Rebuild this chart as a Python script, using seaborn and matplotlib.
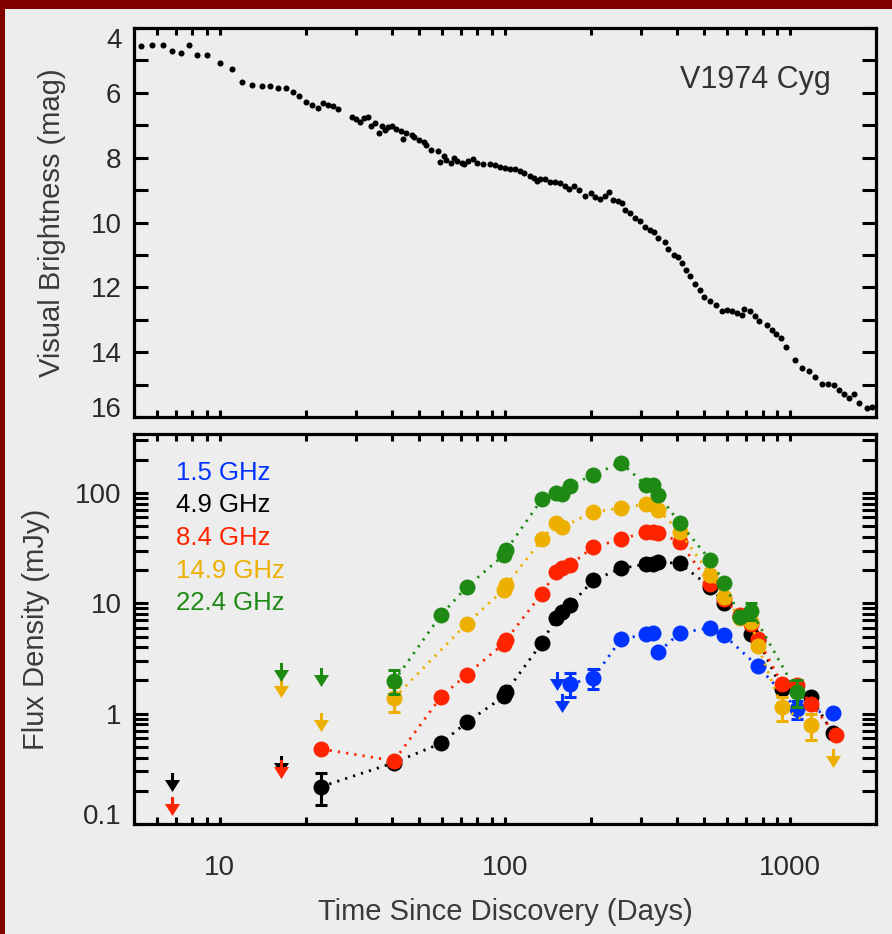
import numpy as np
import matplotlib
matplotlib.use("Agg")
import matplotlib.pyplot as plt
import seaborn as sns
from matplotlib.path import Path
from matplotlib.patches import Rectangle
from matplotlib.ticker import MultipleLocator, LogLocator, FuncFormatter, NullFormatter

# optical light curve (days since discovery, visual mag)
days_vis = [5.3, 5.8, 6.3, 6.8, 7.3, 7.8, 8.3, 9.0, 10.0, 11.0, 12.0, 13.0, 14.0, 15.0,
            16.0, 17.0, 18.0, 19.0, 20.0, 21.0, 22.0, 23.0, 24.0, 25.0,
            26, 29, 30, 31, 32, 33, 34, 35, 36, 37, 38, 39, 40, 41.5, 43, 44, 45, 47, 48, 50,
            52, 53, 55, 58, 59, 61, 62, 64.5, 66, 68, 70.5, 72, 74, 77, 80, 84, 88.5, 92, 96, 100,
            104, 108, 113, 117, 122, 126, 129, 133, 138, 144, 150, 156, 162, 167,
            174, 182, 191, 200, 207, 215, 224, 232, 239, 248, 257, 264, 275, 286, 298, 310,
            321, 333, 343, 364, 374, 390, 405, 417, 432, 446, 464, 481, 499, 524,
            550, 576, 600, 624, 650, 677, 690, 720, 754, 780,
            828, 863, 893, 927, 968, 1035, 1099, 1159, 1224, 1291, 1352, 1419, 1486, 1546,
            1610, 1677, 1742, 1858, 1935]
mag_vis = [4.54, 4.51, 4.51, 4.72, 4.78, 4.53, 4.82, 4.84, 5.08, 5.26, 5.67, 5.77, 5.79, 5.79,
           5.84, 5.85, 5.96, 6.10, 6.27, 6.37, 6.48, 6.30, 6.36, 6.41,
           6.50, 6.74, 6.80, 6.90, 6.78, 6.76, 7.01, 6.92, 7.25, 7.01, 7.15, 7.05, 7.01, 7.13, 7.19, 7.42, 7.25, 7.29, 7.35, 7.44,
           7.52, 7.62, 7.77, 7.80, 8.14, 7.95, 8.06, 8.16, 8.00, 8.11, 8.16, 8.21, 8.11, 8.03, 8.16, 8.21, 8.20, 8.24, 8.28, 8.31,
           8.34, 8.36, 8.40, 8.47, 8.55, 8.62, 8.73, 8.65, 8.67, 8.76, 8.76, 8.77, 8.86, 8.96,
           8.86, 9.00, 9.17, 9.08, 9.21, 9.27, 9.19, 9.07, 9.31, 9.34, 9.41, 9.60, 9.72, 9.86, 9.96, 10.13,
           10.24, 10.30, 10.48, 10.61, 10.83, 10.99, 11.06, 11.24, 11.45, 11.64, 11.91, 12.09, 12.29, 12.43,
           12.53, 12.74, 12.69, 12.74, 12.79, 12.84, 12.66, 12.74, 12.89, 13.05,
           13.15, 13.30, 13.43, 13.56, 13.84, 14.23, 14.48, 14.59, 14.76, 14.97, 14.97, 15.00, 15.18, 15.28,
           15.41, 15.29, 15.57, 15.72, 15.69]

# radio detections (days, mJy)
days_15 = [169, 204, 255, 311, 331, 345, 409, 524, 587, 771, 1056, 1412]
flux_15 = [1.86, 2.11, 4.71, 5.23, 5.37, 3.61, 5.37, 6.01, 5.12, 2.68, 1.10, 1.01]
days_49 = [22.7, 40.8, 59.5, 73.4, 99, 101, 134.5, 151, 158.5, 169, 204, 255, 311, 331, 345, 409,
           524, 587, 666, 730, 771, 935, 1182, 1412]
flux_49 = [0.218, 0.359, 0.537, 0.834, 1.43, 1.585, 4.36, 7.41, 8.34, 9.59, 16.2, 20.7, 22.6, 22.6,
           23.7, 23.0, 14.1, 10.06, 7.46, 5.23, 4.61, 1.68, 1.41, 0.662]
days_84 = [22.7, 40.8, 59.5, 73.4, 99, 101, 134.5, 151, 158.5, 169, 204, 255, 311, 331, 345, 409,
           524, 587, 666, 730, 771, 935, 1056, 1182, 1450]
flux_84 = [0.478, 0.374, 1.41, 2.26, 4.31, 4.68, 12.2, 19.3, 21.1, 22.2, 32.5, 37.9, 44.5, 44.5,
           43.6, 36.1, 14.9, 11.0, 7.78, 6.44, 4.78, 1.86, 1.83, 1.21, 0.644]
days_149 = [40.8, 73.4, 99, 101, 134.5, 151, 158.5, 204, 255, 311, 331, 345, 409, 524, 587, 666,
            730, 771, 935, 1182]
flux_149 = [1.38, 6.54, 13.3, 14.6, 37.9, 53.7, 48.7, 67.6, 72.6, 79.4, 79.4, 70.0, 44.5, 18.2,
            11.4, 7.41, 6.76, 4.06, 1.14, 0.794]
days_224 = [40.8, 59.5, 73.4, 99, 101, 134.5, 151, 158.5, 169, 204, 255, 311, 331, 345, 409, 524,
            587, 666, 730, 1056]
flux_224 = [1.97, 7.78, 14.1, 27.3, 30.3, 87.7, 100.6, 97.9, 115.8, 146.6, 188.5, 118.2, 118.2,
            95.9, 53.7, 24.6, 15.3, 7.51, 8.51, 1.56]

# points with error bars (days, value, low, high)
err_15 = ([169, 204, 1056], [1.86, 2.11, 1.10], [1.41, 1.68, 0.895], [2.34, 2.55, 1.31])
err_49 = ([22.7], [0.218], [0.149], [0.292])
err_84 = ([], [], [], [])
err_149 = ([40.8, 935, 1182], [1.38, 1.14, 0.794], [1.04, 0.864, 0.576], [1.73, 1.41, 0.994])
err_224 = ([40.8, 730, 1056], [1.97, 8.51, 1.56], [1.51, 7.01, 1.14], [2.46, 10.06, 2.0])

# upper limits (days, mJy)
ul_days_15, ul_flux_15 = [152, 159], [1.96, 1.25]
ul_days_49, ul_flux_49 = [6.8, 16.4], [0.241, 0.344]
ul_days_84, ul_flux_84 = [6.8, 16.4], [0.146, 0.313]
ul_days_149, ul_flux_149 = [16.4, 22.7, 1412], [1.69, 0.84, 0.394]
ul_days_224, ul_flux_224 = [16.4, 22.7], [2.36, 2.17]

band_labels = ["1.5 GHz", "4.9 GHz", "8.4 GHz", "14.9 GHz", "22.4 GHz"]
band_colors = ["#0033ff", "#000000", "#ff2400", "#edb000", "#1e8a14"]

bg = "#ededed"
sns.set_theme(style="white")
plt.rcParams["font.family"] = ["Liberation Sans", "DejaVu Sans"]

fig = plt.figure(figsize=(8.92, 9.34), dpi=100, facecolor=bg)
ax1 = fig.add_axes([0.1502, 0.5535, 0.832, 0.4165])
ax2 = fig.add_axes([0.1502, 0.1178, 0.832, 0.4172])


def style_axes(ax):
    ax.set_facecolor(bg)
    for sp in ax.spines.values():
        sp.set_visible(True)
        sp.set_linewidth(2.3)
        sp.set_color("black")
    ax.tick_params(axis="both", which="both", direction="in", top=True, bottom=True,
                   left=True, right=True, width=2.2, color="black",
                   labelcolor="#2a2a2a", labelsize=20)
    ax.tick_params(axis="x", which="both", length=5, pad=22)
    ax.tick_params(axis="y", which="both", length=10, pad=9)
    ax.set_xscale("log")
    ax.set_xlim(5, 2000)
    ax.xaxis.set_major_locator(LogLocator(base=10, numticks=10))
    ax.xaxis.set_minor_locator(LogLocator(base=10, subs=np.arange(2, 10), numticks=20))
    ax.xaxis.set_major_formatter(FuncFormatter(lambda v, p: f"{v:g}"))
    ax.xaxis.set_minor_formatter(NullFormatter())
    ax.grid(False)


def shift_end_labels(ax, lo, hi):
    # y labels sit a little low; the end labels are pulled inside the frame
    for tick, loc in zip(ax.yaxis.get_major_ticks(), ax.yaxis.get_majorticklocs()):
        if np.isclose(loc, lo):
            tick.label1.set_va("baseline")
        elif np.isclose(loc, hi):
            tick.label1.set_va("top")
        else:
            tick.label1.set_va("center_baseline")


# top panel: visual light curve
style_axes(ax1)
sns.scatterplot(x=days_vis, y=mag_vis, ax=ax1, color="black", s=19, linewidth=0)
ax1.set_ylim(16, 4)
ax1.yaxis.set_major_locator(MultipleLocator(2))
ax1.yaxis.set_minor_locator(MultipleLocator(1))
ax1.tick_params(axis="x", labelbottom=False)
ax1.set_ylabel("Visual Brightness (mag)", fontsize=21, color="#3a3a3a")
ax1.yaxis.set_label_coords(-0.0916, 0.5)
ax1.text(0.736, 0.8465, "V1974 Cyg", fontsize=22, color="#333333",
         transform=ax1.transAxes, va="baseline", ha="left")

# bottom panel: radio light curves
style_axes(ax2)
ax2.set_yscale("log")
ax2.set_ylim(0.1, 340)
ax2.yaxis.set_major_locator(LogLocator(base=10, numticks=10))
ax2.yaxis.set_minor_locator(LogLocator(base=10, subs=np.arange(2, 10), numticks=20))
ax2.yaxis.set_major_formatter(FuncFormatter(lambda v, p: f"{v:g}"))
ax2.yaxis.set_minor_formatter(NullFormatter())

# downward arrow marker for upper limits
arrow = Path([(-0.16, 1), (0.16, 1), (0.16, 0.26), (0.79, 0.26), (0, -1),
              (-0.79, 0.26), (-0.16, 0.26), (-0.16, 1)],
             [Path.MOVETO] + [Path.LINETO] * 6 + [Path.CLOSEPOLY])

det_days = [days_15, days_49, days_84, days_149, days_224]
det_flux = [flux_15, flux_49, flux_84, flux_149, flux_224]
errs = [err_15, err_49, err_84, err_149, err_224]
ul_days = [ul_days_15, ul_days_49, ul_days_84, ul_days_149, ul_days_224]
ul_flux = [ul_flux_15, ul_flux_49, ul_flux_84, ul_flux_149, ul_flux_224]

for i, c in enumerate(band_colors):
    z = 3 + i
    sns.lineplot(x=det_days[i], y=det_flux[i], ax=ax2, color=c, linestyle=(0, (0.8, 2.2)),
                 linewidth=2.0, marker="o", markersize=11.5, markeredgewidth=0,
                 estimator=None, sort=False, zorder=z)
    ed, ev, elo, ehi = errs[i]
    if ed:
        ev = np.array(ev)
        ax2.errorbar(ed, ev, yerr=[ev - np.array(elo), np.array(ehi) - ev], fmt="none",
                     ecolor=c, elinewidth=2.2, capsize=4, capthick=2.2, zorder=z)
    ax2.plot(ul_days[i], ul_flux[i], linestyle="none", marker=arrow, markersize=13.7,
             color=c, markeredgewidth=0, zorder=z)
    ax2.text(0.0566, 0.884 - i * 0.0839, band_labels[i], color=c, fontsize=18.5,
             transform=ax2.transAxes, va="baseline", ha="left")

ax2.set_ylabel("Flux Density (mJy)", fontsize=21, color="#3a3a3a")
ax2.yaxis.set_label_coords(-0.113, 0.5)
ax2.set_xlabel("Time Since Discovery (Days)", fontsize=21, color="#3a3a3a")
ax2.xaxis.set_label_coords(0.5, -0.19)

shift_end_labels(ax1, 16, 4)
shift_end_labels(ax2, 0.1, 1000)

# dark red frame on top and left edge
fig.add_artist(Rectangle((0, 1 - 9 / 934), 1, 9 / 934, transform=fig.transFigure,
                         facecolor="#800000", edgecolor="none"))
fig.add_artist(Rectangle((0, 0), 5 / 892, 1, transform=fig.transFigure,
                         facecolor="#800000", edgecolor="none"))

fig.savefig("out.png", dpi=100, facecolor=bg)
